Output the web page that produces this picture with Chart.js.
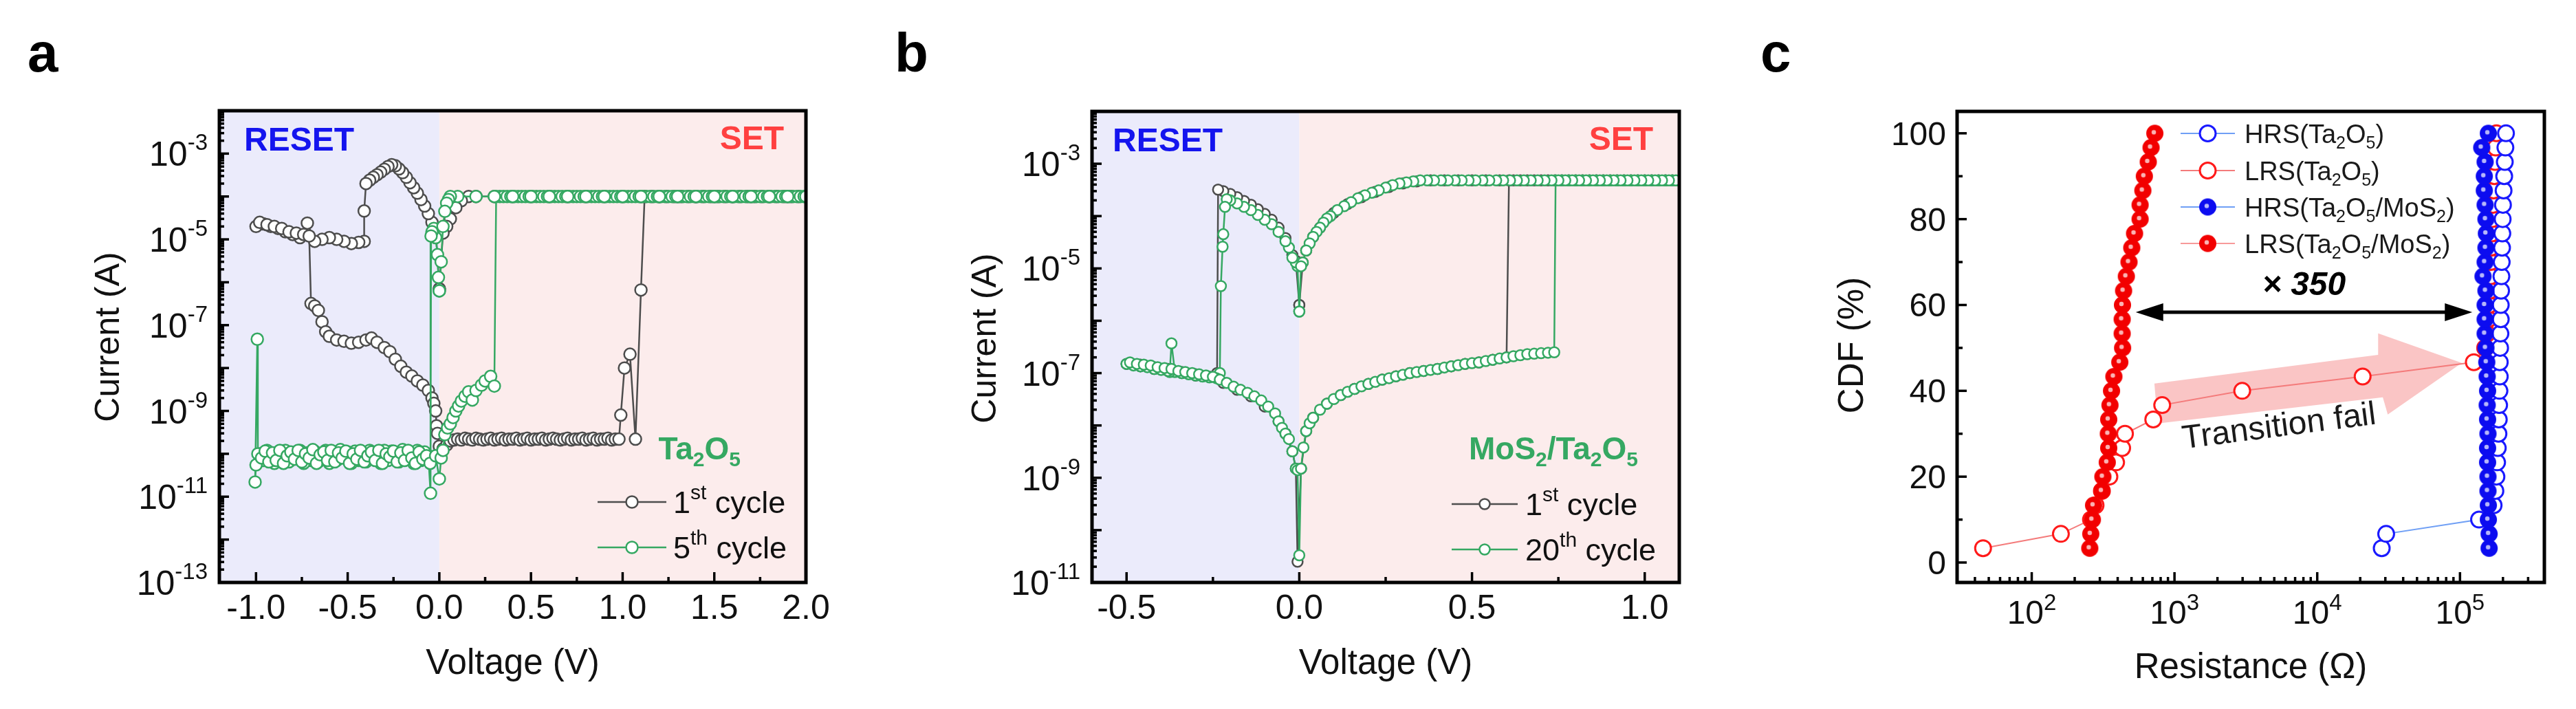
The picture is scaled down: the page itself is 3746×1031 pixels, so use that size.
<!DOCTYPE html>
<html>
<head>
<meta charset="utf-8">
<script src="https://cdn.jsdelivr.net/npm/chart.js@4.4.1/dist/chart.umd.min.js"></script>
<style>
  html, body { margin: 0; padding: 0; background: #fff; }
  body { width: 3746px; height: 1031px; position: relative; overflow: hidden; }
  canvas { position: absolute; top: 0; }
</style>
</head>
<body>
<canvas id="chartA" width="1250" height="1031" style="left:0px"></canvas>
<canvas id="chartB" width="1250" height="1031" style="left:1250px"></canvas>
<canvas id="chartC" width="1246" height="1031" style="left:2500px"></canvas>
<script>
const FONT = "'Liberation Sans', Arial, Helvetica, sans-serif";
const GREEN = '#35a862';
const GRAY = '#4d4d4d';

// ---------- panel a : Ta2O5, current (A) vs voltage (V) ----------
const aTicksX = [-1.0, -0.5, 0.0, 0.5, 1.0, 1.5, 2.0];
const aMinorX = [-0.75, -0.25, 0.25, 0.75, 1.25, 1.75];
const aLabelExpY = [-3, -5, -7, -9, -11, -13];
const aComp = 1e-4; // compliance level

const aCycle1Reset = [[0.00,7e-7],[-0.02,1.8e-5],[-0.04,2.5e-5],[-0.06,4e-5],[-0.08,6e-5],[-0.10,8.5e-5],[-0.12,1.2e-4],[-0.14,1.6e-4],
  [-0.16,2.1e-4],[-0.18,2.8e-4],[-0.20,3.6e-4],[-0.22,4.4e-4],[-0.24,5.2e-4],[-0.26,5.5e-4],[-0.28,5e-4],[-0.30,4.3e-4],[-0.32,3.7e-4],
  [-0.34,3.2e-4],[-0.36,2.8e-4],[-0.38,2.4e-4],[-0.40,2e-4],[-0.41,4.6e-5],[-0.41,9e-6],[-0.44,8.5e-6],[-0.48,8e-6],[-0.52,9e-6],
  [-0.56,1e-5],[-0.60,1.1e-5],[-0.64,1e-5],[-0.68,9e-6],[-0.72,2.4e-5],[-0.76,1.1e-5],[-0.80,1.3e-5],[-0.84,1.5e-5],[-0.88,1.8e-5],
  [-0.92,2e-5],[-0.96,2.3e-5],[-1.00,2e-5]];
const aCycle1Back = [[-0.98,2.5e-5],[-0.94,2.2e-5],[-0.90,2e-5],[-0.86,1.8e-5],[-0.82,1.5e-5],[-0.78,1.4e-5],[-0.74,1.3e-5],[-0.71,1.2e-5],
  [-0.70,3.2e-7],[-0.68,2.8e-7],[-0.66,2.2e-7],[-0.64,1.2e-7],[-0.62,7e-8],[-0.60,5.5e-8],[-0.56,4.5e-8],[-0.52,4.2e-8],[-0.48,3.8e-8],
  [-0.44,4e-8],[-0.40,4.5e-8],[-0.37,5e-8],[-0.34,4e-8],[-0.30,3e-8],[-0.27,2.4e-8],[-0.24,1.6e-8],[-0.21,1.1e-8],[-0.18,8e-9],
  [-0.15,6.5e-9],[-0.12,5e-9],[-0.09,4e-9],[-0.06,3e-9],[-0.04,2e-9],[-0.03,1.5e-9],[-0.02,1e-9],[-0.015,4.5e-10],[-0.01,3e-10],[0.00,1.5e-10]];
const aCycle1Set = [[0.02,1.3e-10],[0.04,1.6e-10],[0.06,2e-10],[0.08,2.1e-10],
  [0.10,2.2e-10],[0.12,2.1e-10],[0.14,2.3e-10],[0.16,2.2e-10],[0.18,2.1e-10],[0.20,2.3e-10],[0.22,2.2e-10],[0.24,2.1e-10],[0.26,2.2e-10],
  [0.28,2.3e-10],[0.30,2.1e-10],[0.32,2.2e-10],[0.34,2.3e-10],[0.36,2.1e-10],[0.38,2.2e-10],[0.40,2.2e-10],[0.42,2.3e-10],[0.44,2.1e-10],
  [0.46,2.2e-10],[0.48,2.3e-10],[0.50,2.1e-10],[0.52,2.2e-10],[0.54,2.2e-10],[0.56,2.3e-10],[0.58,2.1e-10],[0.60,2.2e-10],[0.62,2.3e-10],
  [0.64,2.2e-10],[0.66,2.1e-10],[0.68,2.2e-10],[0.70,2.3e-10],[0.72,2.1e-10],[0.74,2.2e-10],[0.76,2.2e-10],[0.78,2.3e-10],[0.80,2.1e-10],
  [0.82,2.2e-10],[0.84,2.3e-10],[0.86,2.1e-10],[0.88,2.2e-10],[0.90,2.2e-10],[0.92,2.3e-10],[0.94,2.1e-10],[0.96,2.2e-10],[0.98,2.2e-10],
  [0.99,8e-10],[1.01,1e-8],[1.04,2.1e-8],[1.07,2.2e-10],[1.10,6.6e-7]];
const aCycle1OnV = [1.12,1.16,1.20,1.24,1.28,1.32,1.36,1.40,1.44,1.48,1.52,1.56,1.60,1.64,1.68,1.72,1.76,1.80,1.84,1.88,1.92,1.96,2.00,
  1.90,1.80,1.70,1.60,1.50,1.40,1.30,1.20,1.10,1.00,0.90,0.80,0.70,0.60,0.50,0.40,0.30,0.20,0.16];
const aCycle1Off = [[0.12,8e-5],[0.09,5.5e-5],[0.06,3e-5],[0.04,2e-5],[0.02,1.4e-5],[0.00,7e-7]];

const aCycle5Reset = [[0.00,6.3e-7],[-0.005,1.3e-6],[-0.01,4.4e-6],[-0.02,1.1e-5],[-0.03,1.8e-5],[-0.04,1.5e-5],[-0.045,1.2e-5],
  [-0.048,1.2e-11],[-0.06,9e-11],
  [-0.08,1.1e-10],[-0.10,7e-11],[-0.12,1.2e-10],[-0.14,6e-11],[-0.16,1e-10],[-0.18,8e-11],[-0.20,1.25e-10],[-0.22,6.5e-11],[-0.24,9e-11],
  [-0.26,1.15e-10],[-0.28,7e-11],[-0.30,1.2e-10],[-0.32,6e-11],[-0.34,1.05e-10],[-0.36,8e-11],[-0.38,1.2e-10],[-0.40,6.5e-11],[-0.42,9.5e-11],
  [-0.44,7e-11],[-0.46,1.15e-10],[-0.48,6e-11],[-0.50,1.1e-10],[-0.52,8e-11],[-0.54,1.25e-10],[-0.56,7e-11],[-0.58,1e-10],[-0.60,6e-11],
  [-0.62,1.2e-10],[-0.64,8.5e-11],[-0.66,6.5e-11],[-0.68,1.15e-10],[-0.70,7e-11],[-0.72,1.05e-10],[-0.74,6e-11],[-0.76,1.2e-10],[-0.78,8e-11],
  [-0.80,1e-10],[-0.82,6.5e-11],[-0.84,1.2e-10],[-0.86,7.5e-11],[-0.88,1.1e-10],[-0.90,6e-11],[-0.92,9e-11],[-0.94,1.2e-10],[-0.96,7e-11],
  [-0.98,1e-10],[-1.00,5.5e-11],[-1.005,2.2e-11],[-0.993,4.7e-8],[-0.99,1e-10],
  [-0.97,8e-11],[-0.95,1.15e-10],[-0.93,6.5e-11],[-0.91,1.05e-10],[-0.89,7e-11],[-0.87,1.2e-10],[-0.85,6e-11],[-0.83,9e-11],[-0.81,1.1e-10],
  [-0.79,7.5e-11],[-0.77,1.2e-10],[-0.75,6.5e-11],[-0.73,1e-10],[-0.71,8e-11],[-0.69,1.25e-10],[-0.67,6e-11],[-0.65,9.5e-11],[-0.63,1.1e-10],
  [-0.61,7e-11],[-0.59,1.2e-10],[-0.57,6.5e-11],[-0.55,1.05e-10],[-0.53,8e-11],[-0.51,1.15e-10],[-0.49,6e-11],[-0.47,1e-10],[-0.45,7.5e-11],
  [-0.43,1.2e-10],[-0.41,6.5e-11],[-0.39,9e-11],[-0.37,1.1e-10],[-0.35,7e-11],[-0.33,1.2e-10],[-0.31,6e-11],[-0.29,1e-10],[-0.27,8.5e-11],
  [-0.25,1.15e-10],[-0.23,6.5e-11],[-0.21,1.05e-10],[-0.19,7e-11],[-0.17,1.2e-10],[-0.15,8e-11],[-0.13,6e-11],[-0.11,1.1e-10],[-0.09,7.5e-11],
  [-0.07,9e-11],[-0.05,6e-11],[-0.02,9e-11],[0.00,2.6e-11]];
const aCycle5Set = [[0.01,8e-11],[0.02,1.2e-10],[0.03,2.8e-10],[0.045,4e-10],[0.06,5e-10],[0.075,7e-10],[0.09,1e-9],[0.105,1.3e-9],
  [0.12,1.7e-9],[0.14,2.2e-9],[0.16,2.8e-9],[0.18,1.8e-9],[0.20,3e-9],[0.23,4e-9],[0.25,5e-9],[0.28,6.4e-9],[0.30,3.8e-9]];
const aCycle5OnV = [0.31,0.33,0.35,0.37,0.39,0.41,0.43,0.45,0.47,0.49,0.51,0.53,0.55,0.57,0.59,0.61,0.63,0.65,0.67,0.69,0.71,0.73,0.75,
  0.77,0.79,0.81,0.83,0.85,0.87,0.89,0.91,0.93,0.95,0.97,0.99,1.01,1.03,1.05,1.07,1.09,1.11,1.13,1.15,1.17,1.19,1.21,1.23,1.25,1.27,
  1.29,1.31,1.33,1.35,1.37,1.39,1.41,1.43,1.45,1.47,1.49,1.51,1.53,1.55,1.57,1.59,1.61,1.63,1.65,1.67,1.69,1.71,1.73,1.75,1.77,1.79,
  1.81,1.83,1.85,1.87,1.89,1.91,1.93,1.95,1.97,1.99,2.00,
  1.90,1.80,1.70,1.60,1.50,1.40,1.30,1.20,1.10,1.00,0.90,0.80,0.70,0.60,0.50,0.40,0.30,0.20,0.10,0.06];
const aCycle5Off = [[0.05,8.5e-5],[0.04,7e-5],[0.03,4.5e-5],[0.02,2e-5],[0.01,3e-6],[0.00,6.3e-7]];

// ---------- panel b : MoS2/Ta2O5 ----------
const bTicksX = [-0.5, 0.0, 0.5, 1.0];
const bMinorX = [-0.25, 0.25, 0.75];
const bLabelExpY = [-3, -5, -7, -9, -11];
const bComp = 4.8e-4;

const bCycle20Reset = [[0.00,1.5e-6],[-0.005,1.1e-5],[-0.01,1.3e-5],[-0.02,1.6e-5],[-0.03,2.5e-5],[-0.04,3.3e-5],[-0.06,5e-5],[-0.08,7e-5],
  [-0.10,8.5e-5],[-0.12,1.05e-4],[-0.14,1.3e-4],[-0.16,1.5e-4],[-0.18,1.75e-4],[-0.20,2e-4],[-0.21,2.1e-4],[-0.215,1.5e-4],[-0.22,4.5e-5],
  [-0.222,2.6e-5],[-0.227,4.6e-6],[-0.23,1e-7],
  [-0.24,8e-8],[-0.26,8.3e-8],[-0.28,8.6e-8],[-0.30,9e-8],[-0.32,9.5e-8],[-0.34,1e-7],[-0.36,1.05e-7],[-0.37,3.7e-7],[-0.375,1.05e-7],
  [-0.38,1.1e-7],[-0.40,1.15e-7],[-0.42,1.2e-7],[-0.44,1.3e-7],[-0.46,1.35e-7],[-0.48,1.4e-7],[-0.50,1.5e-7],
  [-0.49,1.6e-7],[-0.47,1.5e-7],[-0.45,1.45e-7],[-0.43,1.4e-7],[-0.41,1.3e-7],[-0.39,1.25e-7],[-0.37,1.2e-7],[-0.35,1.1e-7],[-0.33,1.05e-7],
  [-0.31,1e-7],[-0.29,9.5e-8],[-0.27,9e-8],[-0.25,8.5e-8],[-0.23,7.5e-8],[-0.21,6.5e-8],[-0.19,5.5e-8],[-0.17,4.8e-8],[-0.15,4.2e-8],
  [-0.13,3.6e-8],[-0.11,3e-8],[-0.09,2.3e-8],[-0.07,1.7e-8],[-0.06,1.2e-8],[-0.05,9e-9],[-0.04,7e-9],[-0.03,5.5e-9],[-0.02,3.2e-9],
  [-0.01,1.5e-9],[-0.005,1.4e-9],[0.00,3.3e-11]];
const bCycle20Set = [[0.005,1.5e-9],[0.012,3.8e-9],[0.02,7.8e-9],[0.03,1.1e-8],[0.04,1.4e-8],[0.06,2e-8],[0.08,2.6e-8],[0.10,3.2e-8],
  [0.12,3.8e-8],[0.14,4.4e-8],[0.16,5e-8],[0.18,5.6e-8],[0.20,6.2e-8],[0.22,6.8e-8],[0.24,7.5e-8],[0.26,8e-8],[0.28,8.7e-8],[0.30,9.3e-8],
  [0.32,1e-7],[0.34,1.05e-7],[0.36,1.1e-7],[0.38,1.15e-7],[0.40,1.2e-7],[0.42,1.28e-7],[0.44,1.35e-7],[0.46,1.42e-7],[0.48,1.5e-7],
  [0.50,1.55e-7],[0.52,1.6e-7],[0.54,1.7e-7],[0.56,1.8e-7],[0.58,1.9e-7],[0.60,2e-7],[0.62,2.1e-7],[0.64,2.2e-7],[0.66,2.3e-7],
  [0.68,2.35e-7],[0.70,2.4e-7],[0.72,2.45e-7],[0.738,2.5e-7]];
const bCycle20OnV = [0.742,0.76,0.78,0.80,0.82,0.84,0.86,0.88,0.90,0.92,0.94,0.96,0.98,1.00,1.02,1.04,1.06,1.08,1.10,
  1.09,1.07,1.05,1.03,1.01,0.99,0.97,0.95,0.93,0.91,0.89,0.87,0.85,0.83,0.81,0.79,0.77,0.75,0.73,0.71,0.69,0.67,0.65,0.63,0.61,
  0.59,0.57,0.55,0.53,0.51,0.49,0.47,0.45,0.43,0.41,0.39,0.37,0.35];
const bCycle20Off = [[0.33,4.6e-4],[0.31,4.4e-4],[0.29,4.2e-4],[0.27,3.9e-4],[0.25,3.5e-4],[0.23,3.1e-4],[0.21,2.8e-4],[0.19,2.5e-4],
  [0.17,2.2e-4],[0.15,1.85e-4],[0.13,1.55e-4],[0.11,1.3e-4],[0.09,1e-4],[0.08,9e-5],[0.07,7.5e-5],[0.06,6e-5],[0.05,5e-5],[0.04,4e-5],
  [0.03,3e-5],[0.02,2.2e-5],[0.01,1.3e-5],[0.005,1.1e-5],[0.00,1.5e-6]];

const bCycle1Reset = [[0.00,2e-6],[-0.01,1.4e-5],[-0.02,1.8e-5],[-0.04,3.8e-5],[-0.06,6e-5],[-0.08,8.5e-5],[-0.10,1.1e-4],[-0.12,1.35e-4],
  [-0.14,1.65e-4],[-0.16,1.95e-4],[-0.18,2.3e-4],[-0.20,2.65e-4],[-0.22,3e-4],[-0.235,3.2e-4],[-0.238,1e-7],
  [-0.26,8.5e-8],[-0.30,9e-8],[-0.34,1e-7],[-0.38,1.1e-7],[-0.42,1.2e-7],[-0.46,1.35e-7],[-0.50,1.5e-7],
  [-0.46,1.45e-7],[-0.42,1.3e-7],[-0.38,1.2e-7],[-0.34,1.05e-7],[-0.30,9.5e-8],[-0.26,8.5e-8],[-0.22,6.5e-8],[-0.18,4.8e-8],
  [-0.14,3.6e-8],[-0.10,2.3e-8],[-0.06,1.2e-8],[-0.04,7e-9],[-0.02,3.2e-9],[-0.01,1.5e-9],[-0.005,2.5e-11]];
const bCycle1Set = [[0.005,1.5e-9],[0.02,7.8e-9],[0.04,1.4e-8],[0.08,2.6e-8],[0.12,3.8e-8],[0.16,5e-8],[0.20,6.2e-8],[0.24,7.5e-8],
  [0.28,8.7e-8],[0.32,1e-7],[0.36,1.1e-7],[0.40,1.2e-7],[0.44,1.35e-7],[0.48,1.5e-7],[0.52,1.6e-7],[0.56,1.8e-7],[0.60,2e-7]];
const bCycle1OnV = [0.607,0.64,0.68,0.72,0.76,0.80,0.84,0.88,0.92,0.96,1.00,1.04,1.08,1.10,1.06,1.02,0.98,0.94,0.90,0.86,0.82,
  0.78,0.74,0.70,0.66,0.62,0.58,0.54,0.50,0.46,0.42,0.38];
const bCycle1Off = [[0.34,4.6e-4],[0.30,4.2e-4],[0.26,3.6e-4],[0.22,2.9e-4],[0.18,2.3e-4],[0.14,1.7e-4],[0.10,1.15e-4],[0.06,6e-5],
  [0.04,4e-5],[0.02,2.2e-5],[0.01,1.3e-5],[0.00,2e-6]];

// ---------- panel c : CDF (%) vs resistance (ohm) ----------
const cCdf = [3.33,6.67,10,13.33,16.67,20,23.33,26.67,30,33.33,36.67,40,43.33,46.67,50,53.33,56.67,60,63.33,66.67,
  70,73.33,76.67,80,83.33,86.67,90,93.33,96.67,100];
const cHrsTa = [2.83e4,3.04e4,1.36e5,1.72e5,1.77e5,1.8e5,1.82e5,1.84e5,1.86e5,1.87e5,1.88e5,1.89e5,1.9e5,1.9e5,1.91e5,
  1.92e5,1.93e5,1.93e5,1.94e5,1.95e5,1.96e5,1.97e5,1.98e5,1.99e5,2.0e5,2.02e5,2.04e5,2.06e5,2.08e5,2.1e5];
const cLrsTa = [45.6,160,260,280,310,350,390,430,450,710,820,2980,2.08e4,1.25e5,1.5e5,1.55e5,1.58e5,1.6e5,1.62e5,1.63e5,
  1.64e5,1.65e5,1.67e5,1.68e5,1.7e5,1.72e5,1.74e5,1.76e5,1.78e5,1.8e5];
const cHrsMo = [1.6e5,1.6e5,1.58e5,1.58e5,1.57e5,1.57e5,1.56e5,1.56e5,1.57e5,1.56e5,1.55e5,1.56e5,1.55e5,1.54e5,1.52e5,
  1.5e5,1.5e5,1.5e5,1.52e5,1.45e5,1.5e5,1.52e5,1.53e5,1.52e5,1.5e5,1.48e5,1.48e5,1.5e5,1.42e5,1.58e5];
const cLrsMo = [255,259,266,271,310,315,338,346,344,346,353,362,376,414,433,430,430,432,440,460,
  480,502,525,574,574,600,615,655,685,728];
const cTickExpX = [2, 3, 4, 5];
const cTicksY = [0, 20, 40, 60, 80, 100];
const cMinorY = [10, 30, 50, 70, 90];

// ---------- drawing helpers ----------
function rich(ctx, parts, x, y, size, o = {}) {
  const pre = (o.italic ? 'italic ' : '') + (o.bold ? 'bold ' : '');
  const small = Math.round(size * (o.ratio || 0.66));
  const fontOf = m => pre + (m ? small : size) + 'px ' + FONT;
  let w = 0;
  const ws = parts.map(([t, m]) => { ctx.font = fontOf(m); const v = ctx.measureText(t).width; w += v; return v; });
  let cx = o.align === 'right' ? x - w : o.align === 'center' ? x - w / 2 : x;
  ctx.fillStyle = o.color || '#111';
  ctx.textAlign = 'left';
  ctx.textBaseline = 'alphabetic';
  parts.forEach(([t, m], i) => {
    ctx.font = fontOf(m);
    const dy = m === 1 ? -size * (o.supUp || 0.42) : m === -1 ? size * 0.22 : 0;
    ctx.fillText(t, cx, y + dy);
    cx += ws[i];
  });
  return w;
}

function txt(ctx, s, x, y, size, align, o = {}) {
  ctx.font = (o.italic ? 'italic ' : '') + (o.bold ? 'bold ' : '') + size + 'px ' + FONT;
  ctx.fillStyle = o.color || '#111';
  ctx.textAlign = align || 'left';
  ctx.textBaseline = o.base || 'alphabetic';
  ctx.fillText(s, x, y);
}

function vtxt(ctx, s, cx, cy, size) {
  ctx.save();
  ctx.translate(cx, cy);
  ctx.rotate(-Math.PI / 2);
  txt(ctx, s, 0, 0, size, 'center', { base: 'middle' });
  ctx.restore();
}

function seg(ctx, x1, y1, x2, y2) {
  ctx.beginPath(); ctx.moveTo(x1, y1); ctx.lineTo(x2, y2); ctx.stroke();
}

function frame(ctx, a) {
  ctx.strokeStyle = '#000';
  ctx.lineWidth = 5;
  ctx.strokeRect(a.left, a.top, a.right - a.left, a.bottom - a.top);
}

function logTicksY(ctx, sc, a) {
  const lo = Math.round(Math.log10(sc.min)), hi = Math.floor(Math.log10(sc.max));
  for (let e = lo; e <= hi; e++) {
    const d = Math.pow(10, e);
    seg(ctx, a.left, sc.getPixelForValue(d), a.left + 14, sc.getPixelForValue(d));
    for (let k = 2; k <= 9; k++) {
      if (k * d >= sc.max) break;
      const p = sc.getPixelForValue(k * d);
      seg(ctx, a.left, p, a.left + 7, p);
    }
  }
}

function ballStyle(color, r) {
  const c = document.createElement('canvas');
  const s = Math.ceil(2 * r + 2);
  c.width = c.height = s;
  const g = c.getContext('2d');
  g.fillStyle = color;
  g.beginPath(); g.arc(s / 2, s / 2, r, 0, Math.PI * 2); g.fill();
  g.fillStyle = 'rgba(255,255,255,0.7)';
  g.beginPath(); g.arc(s / 2 - r * 0.12, s / 2 - r * 0.12, r * 0.26, 0, Math.PI * 2); g.fill();
  return c;
}

function pts(...parts) {
  return [].concat(...parts).map(([x, y]) => ({ x, y }));
}

function ivSet(data, color, r, order) {
  return {
    data, showLine: true, borderColor: color, borderWidth: 2.5, tension: 0,
    pointRadius: r, pointBorderWidth: 2.5, pointBorderColor: color,
    pointBackgroundColor: '#fff', order
  };
}

// ---------- I-V panels (a, b) ----------
function ivDeco(cfg) {
  return {
    id: 'deco' + cfg.name,
    beforeDatasetsDraw(chart) {
      const { ctx, chartArea: a, scales: { x } } = chart;
      const x0 = x.getPixelForValue(0);
      ctx.save();
      ctx.fillStyle = '#ebebfb';
      ctx.fillRect(a.left, a.top, x0 - a.left, a.bottom - a.top);
      ctx.fillStyle = '#fcecec';
      ctx.fillRect(x0, a.top, a.right - x0, a.bottom - a.top);
      ctx.restore();
    },
    afterDatasetsDraw(chart) {
      const { ctx, chartArea: a, scales: { x, y } } = chart;
      ctx.save();
      ctx.strokeStyle = '#000';
      ctx.lineWidth = 3.5;
      cfg.ticksX.forEach(v => seg(ctx, x.getPixelForValue(v), a.bottom, x.getPixelForValue(v), a.bottom - 15));
      cfg.minorX.forEach(v => seg(ctx, x.getPixelForValue(v), a.bottom, x.getPixelForValue(v), a.bottom - 8));
      logTicksY(ctx, y, a);
      frame(ctx, a);

      cfg.ticksX.forEach(v => txt(ctx, v.toFixed(1), x.getPixelForValue(v), a.bottom + 53, 50, 'center'));
      cfg.labelExpY.forEach(e => rich(ctx, [['10', 0], [String(e), 1]], a.left - 17,
        y.getPixelForValue(Math.pow(10, e)) + 18, 50, { align: 'right', supUp: 0.46 }));

      vtxt(ctx, 'Current (A)', cfg.yTitle[0], cfg.yTitle[1], 50);
      txt(ctx, 'Voltage (V)', (a.left + a.right) / 2, 966, 51, 'center', { base: 'middle' });
      txt(ctx, cfg.letter, cfg.letterX, 104, 80, 'left', { bold: true, color: '#000' });

      txt(ctx, 'RESET', a.left + cfg.resetDx, a.top + 58, 48, 'left', { bold: true, color: '#1414ee' });
      txt(ctx, 'SET', a.right - cfg.setDx, a.top + 56, 48, 'right', { bold: true, color: '#ff4040' });
      rich(ctx, cfg.sample, cfg.sampleX, a.bottom - 179, 46, { bold: true, color: GREEN, align: 'right' });

      cfg.legend.forEach(row => {
        ctx.strokeStyle = row.color;
        ctx.lineWidth = 2.5;
        seg(ctx, cfg.legX[0], row.y, cfg.legX[1], row.y);
        ctx.fillStyle = '#fff';
        ctx.beginPath();
        ctx.arc((cfg.legX[0] + cfg.legX[1]) / 2, row.y, cfg.r, 0, Math.PI * 2);
        ctx.fill(); ctx.stroke();
        rich(ctx, row.parts, cfg.legX[2], row.y + 16, 45, { supUp: 0.45 });
      });
      ctx.restore();
    }
  };
}

function ivChart(id, sets, xr, yr, pad, deco) {
  return new Chart(document.getElementById(id), {
    type: 'scatter',
    data: { datasets: sets },
    options: {
      responsive: false, animation: false, devicePixelRatio: 1, events: [],
      layout: { padding: pad },
      plugins: { legend: { display: false }, tooltip: { enabled: false } },
      scales: {
        x: { type: 'linear', min: xr[0], max: xr[1], display: false },
        y: { type: 'logarithmic', min: yr[0], max: yr[1], display: false }
      }
    },
    plugins: [deco]
  });
}

ivChart('chartA', [
  ivSet(pts(aCycle5Reset, aCycle5Set, aCycle5OnV.map(v => [v, aComp]), aCycle5Off), GREEN, 8.5, 0),
  ivSet(pts(aCycle1Reset, aCycle1Back, aCycle1Set, aCycle1OnV.map(v => [v, aComp]), aCycle1Off), GRAY, 8.5, 1)
], [-1.2, 2.0], [1e-13, 1e-2], { left: 319, right: 78, top: 161, bottom: 184 }, ivDeco({
  name: 'A', ticksX: aTicksX, minorX: aMinorX, labelExpY: aLabelExpY,
  letter: 'a', letterX: 40, yTitle: [159, 490], resetDx: 36, setDx: 32,
  sample: [['Ta', 0], ['2', -1], ['O', 0], ['5', -1]], sampleX: 1077,
  legX: [869, 969, 979], r: 8.5,
  legend: [
    { y: 730, color: GRAY, parts: [['1', 0], ['st', 1], [' cycle', 0]] },
    { y: 796, color: GREEN, parts: [['5', 0], ['th', 1], [' cycle', 0]] }
  ]
}));

ivChart('chartB', [
  ivSet(pts(bCycle20Reset, bCycle20Set, bCycle20OnV.map(v => [v, bComp]), bCycle20Off), GREEN, 7.5, 0),
  ivSet(pts(bCycle1Reset, bCycle1Set, bCycle1OnV.map(v => [v, bComp]), bCycle1Off), GRAY, 7.5, 1)
], [-0.6, 1.1], [1e-11, 1e-2], { left: 338, right: 58, top: 162, bottom: 184 }, ivDeco({
  name: 'B', ticksX: bTicksX, minorX: bMinorX, labelExpY: bLabelExpY,
  letter: 'b', letterX: 51, yTitle: [184, 492], resetDx: 30, setDx: 38,
  sample: [['MoS', 0], ['2', -1], ['/Ta', 0], ['2', -1], ['O', 0], ['5', -1]], sampleX: 1132,
  legX: [861, 957, 968], r: 7.5,
  legend: [
    { y: 733, color: GRAY, parts: [['1', 0], ['st', 1], [' cycle', 0]] },
    { y: 799, color: GREEN, parts: [['20', 0], ['th', 1], [' cycle', 0]] }
  ]
}));

// ---------- CDF panel (c) ----------
const BLUE = '#1a1aff', RED = '#ff1a1a';
const blueBall = ballStyle('#0c0cf0', 12.5), redBall = ballStyle('#f20000', 12.5);

function cdfSet(vals, line, marker, order) {
  return {
    data: vals.map((r, i) => ({ x: r, y: cCdf[i] })),
    showLine: true, borderColor: line, borderWidth: 2, tension: 0,
    pointStyle: marker.img || 'circle', pointRadius: 11.5, pointBorderWidth: 3,
    pointBorderColor: marker.color, pointBackgroundColor: '#fff', order
  };
}

const cLegend = [
  { y: 194, line: '#6f9ff5', color: BLUE, parts: [['HRS(Ta', 0], ['2', -1], ['O', 0], ['5', -1], [')', 0]] },
  { y: 248, line: '#f47b7b', color: RED, parts: [['LRS(Ta', 0], ['2', -1], ['O', 0], ['5', -1], [')', 0]] },
  { y: 301, line: '#6f9ff5', img: blueBall, parts: [['HRS(Ta', 0], ['2', -1], ['O', 0], ['5', -1], ['/MoS', 0], ['2', -1], [')', 0]] },
  { y: 354, line: '#f79a9a', img: redBall, parts: [['LRS(Ta', 0], ['2', -1], ['O', 0], ['5', -1], ['/MoS', 0], ['2', -1], [')', 0]] }
];

const cDeco = {
  id: 'decoC',
  beforeDatasetsDraw(chart) {
    const { ctx, scales: { x, y } } = chart;
    // "Transition fail" arrow, corners given in (ohm, %)
    const arrow = [[723, 41.7], [2.67e4, 48.4], [2.67e4, 53.4], [1.03e5, 46.5], [3.12e4, 34.5], [2.88e4, 38.5], [764, 32.4]];
    ctx.save();
    ctx.fillStyle = 'rgba(246,140,140,0.5)';
    ctx.beginPath();
    arrow.forEach(([r, p], i) => {
      const px = x.getPixelForValue(r), py = y.getPixelForValue(p);
      if (i) ctx.lineTo(px, py); else ctx.moveTo(px, py);
    });
    ctx.closePath();
    ctx.fill();
    ctx.restore();
  },
  afterDatasetsDraw(chart) {
    const { ctx, chartArea: a, scales: { x, y } } = chart;
    ctx.save();
    ctx.strokeStyle = '#000';
    ctx.lineWidth = 3.5;
    cTickExpX.forEach(e => {
      const p = x.getPixelForValue(Math.pow(10, e));
      seg(ctx, p, a.bottom, p, a.bottom - 15);
    });
    for (let e = 1; e <= 5; e++) {
      for (let k = 2; k <= 9; k++) {
        const v = k * Math.pow(10, e);
        if (v <= x.min || v >= x.max) continue;
        const p = x.getPixelForValue(v);
        seg(ctx, p, a.bottom, p, a.bottom - 8);
      }
    }
    cTicksY.forEach(v => seg(ctx, a.left, y.getPixelForValue(v), a.left + 14, y.getPixelForValue(v)));
    cMinorY.forEach(v => seg(ctx, a.left, y.getPixelForValue(v), a.left + 8, y.getPixelForValue(v)));
    frame(ctx, a);

    cTickExpX.forEach(e => rich(ctx, [['10', 0], [String(e), 1]], x.getPixelForValue(Math.pow(10, e)), a.bottom + 60, 48,
      { align: 'center', ratio: 0.69, supUp: 0.42 }));
    cTicksY.forEach(v => txt(ctx, String(v), a.left - 16, y.getPixelForValue(v) + 17, 48, 'right'));
    vtxt(ctx, 'CDF (%)', 195, 502, 51);
    txt(ctx, 'Resistance (\u03A9)', (a.left + a.right) / 2, 972, 51, 'center', { base: 'middle' });
    txt(ctx, 'c', 60, 104, 80, 'left', { bold: true, color: '#000' });

    // x350 double arrow
    const ay = y.getPixelForValue(58.3), x1 = x.getPixelForValue(535), x2 = x.getPixelForValue(1.22e5);
    ctx.lineWidth = 5;
    seg(ctx, x1 + 20, ay, x2 - 20, ay);
    ctx.fillStyle = '#000';
    ctx.beginPath(); ctx.moveTo(x1, ay); ctx.lineTo(x1 + 40, ay - 13); ctx.lineTo(x1 + 40, ay + 13); ctx.closePath(); ctx.fill();
    ctx.beginPath(); ctx.moveTo(x2, ay); ctx.lineTo(x2 - 40, ay - 13); ctx.lineTo(x2 - 40, ay + 13); ctx.closePath(); ctx.fill();
    txt(ctx, '\u00D7 350', (x1 + x2) / 2, ay - 25, 48, 'center', { bold: true, italic: true, color: '#000' });

    ctx.save();
    ctx.translate(x.getPixelForValue(5.4e3), y.getPixelForValue(31.5));
    ctx.rotate(-7.3 * Math.PI / 180);
    txt(ctx, 'Transition fail', 0, 0, 48, 'center', { base: 'middle', color: '#1a1a1a' });
    ctx.restore();

    const lx0 = a.left + 325, lx1 = a.left + 404, lm = (lx0 + lx1) / 2, tx = a.left + 418;
    cLegend.forEach(row => {
      ctx.strokeStyle = row.line;
      ctx.lineWidth = 2;
      seg(ctx, lx0, row.y, lx1, row.y);
      if (row.img) {
        ctx.drawImage(row.img, lm - row.img.width / 2, row.y - row.img.height / 2);
      } else {
        ctx.strokeStyle = row.color;
        ctx.lineWidth = 3;
        ctx.fillStyle = '#fff';
        ctx.beginPath(); ctx.arc(lm, row.y, 11.5, 0, Math.PI * 2); ctx.fill(); ctx.stroke();
      }
      rich(ctx, row.parts, tx, row.y + 14, 38, { color: '#1a1a1a' });
    });
    ctx.restore();
  }
};

new Chart(document.getElementById('chartC'), {
  type: 'scatter',
  data: {
    datasets: [
      cdfSet(cHrsMo, '#6f9ff5', { img: blueBall }, 0),
      cdfSet(cLrsMo, '#f79a9a', { img: redBall }, 1),
      cdfSet(cHrsTa, '#6f9ff5', { color: BLUE }, 2),
      cdfSet(cLrsTa, '#f47b7b', { color: RED }, 3)
    ]
  },
  options: {
    responsive: false, animation: false, devicePixelRatio: 1, events: [],
    layout: { padding: { left: 346, right: 46, top: 162, bottom: 184 } },
    plugins: { legend: { display: false }, tooltip: { enabled: false } },
    scales: {
      x: { type: 'logarithmic', min: 30, max: 3.9e5, display: false },
      y: { type: 'linear', min: -4.65, max: 105.1, display: false }
    }
  },
  plugins: [cDeco]
});
</script>
</body>
</html>
